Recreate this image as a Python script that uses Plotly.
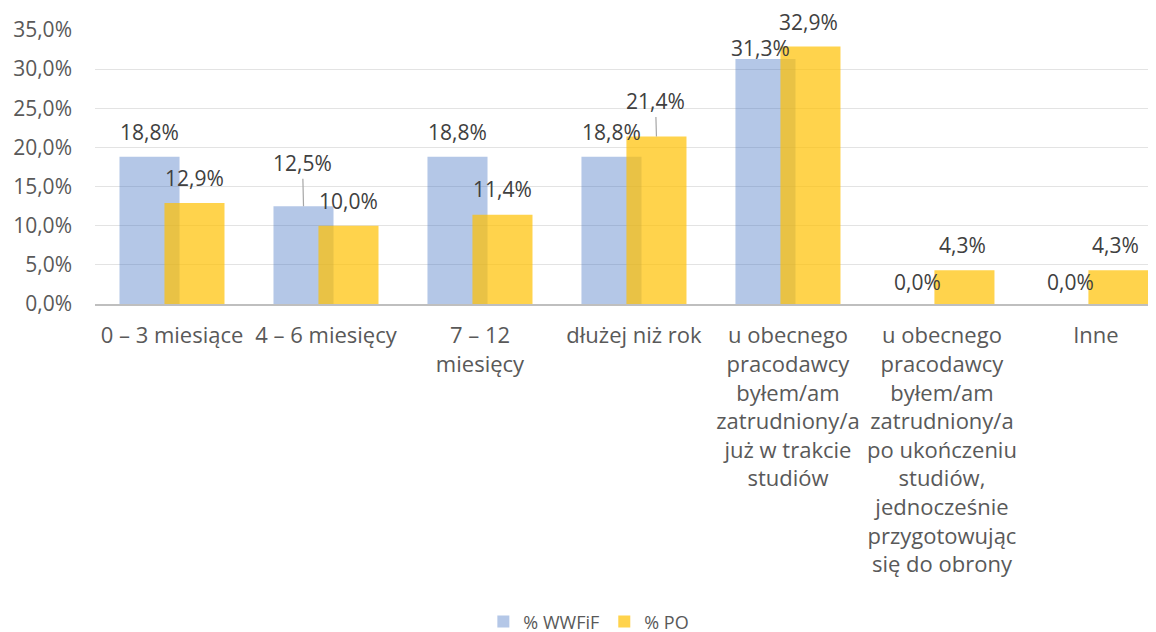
import plotly.graph_objects as go

# Data (values in percent)
categories = [
    "0 – 3 miesiące",
    "4 – 6 miesięcy",
    "7 – 12 miesięcy",
    "dłużej niż rok",
    "u obecnego pracodawcy byłem/am zatrudniony/a już w trakcie studiów",
    "u obecnego pracodawcy byłem/am zatrudniony/a po ukończeniu studiów, jednocześnie przygotowując się do obrony",
    "Inne",
]
tick_labels = [
    "0 – 3 miesiące",
    "4 – 6 miesięcy",
    "7 – 12<br>miesięcy",
    "dłużej niż rok",
    "u obecnego<br>pracodawcy<br>byłem/am<br>zatrudniony/a<br>już w trakcie<br>studiów",
    "u obecnego<br>pracodawcy<br>byłem/am<br>zatrudniony/a<br>po ukończeniu<br>studiów,<br>jednocześnie<br>przygotowując<br>się do obrony",
    "Inne",
]
series_names = ["% WWFiF", "% PO"]
wwfif = [18.8, 12.5, 18.8, 18.8, 31.3, 0.0, 0.0]
po = [12.9, 10.0, 11.4, 21.4, 32.9, 4.3, 4.3]

# Styling
FONT = "Open Sans"
TICK_COLOR = "#595959"
LABEL_COLOR = "#404040"
BAR_WIDTH = 0.39
series_style = [
    dict(values=wwfif, color="rgba(68,114,196,0.4)", offset=-0.341),
    dict(values=po, color="rgba(255,192,0,0.7)", offset=-0.049),
]
# Data-label placement (pixel lift above bar top, x nudge, leader line)
label_lift = [
    [25, 43, 25, 25, 11, 22, 22],
    [25, 25, 26, 35, 24, 25, 25],
]
label_nudge = [
    [0, -1, 0, 0, -5, -2, -3],
    [0, 0, 0, -1, -2, -2, -3],
]
label_leader = [
    [False, True, False, False, False, False, False],
    [False, False, False, True, False, False, False],
]

xs = list(range(len(categories)))

fig = go.Figure()
for name, st in zip(series_names, series_style):
    fig.add_trace(
        go.Bar(
            x=xs,
            y=st["values"],
            name=name,
            width=BAR_WIDTH,
            offset=st["offset"],
            marker=dict(color=st["color"], line=dict(width=0)),
            hovertext=categories,
        )
    )

annotations = []
for s, st in enumerate(series_style):
    center = st["offset"] + BAR_WIDTH / 2
    for i, v in enumerate(st["values"]):
        text = f"{v:.1f}%".replace(".", ",")
        if label_leader[s][i]:
            annotations.append(dict(
                x=i + center, y=v, xref="x", yref="y", text=text,
                showarrow=True, ax=label_nudge[s][i], ay=-label_lift[s][i],
                arrowhead=0, arrowwidth=1.2, arrowcolor="#A6A6A6", standoff=0,
                font=dict(family=FONT, size=21, color=LABEL_COLOR),
            ))
        else:
            annotations.append(dict(
                x=i + center, y=v, xref="x", yref="y", text=text,
                showarrow=False, yshift=label_lift[s][i], xshift=label_nudge[s][i],
                xanchor="center", yanchor="middle",
                font=dict(family=FONT, size=21, color=LABEL_COLOR),
            ))

# page body has an 8px margin, so the figure starts 8px in from the window corner
fig.update_layout(
    width=1140,
    height=630,
    margin=dict(l=87, r=0, t=22, b=334, pad=0, autoexpand=False),
    paper_bgcolor="white",
    plot_bgcolor="white",
    barmode="overlay",
    separators=", ",
    font=dict(family=FONT, size=21, color=TICK_COLOR),
    annotations=annotations,
    showlegend=True,
    legend=dict(
        orientation="h",
        x=0.469,
        xanchor="center",
        y=-1.16,
        yanchor="middle",
        font=dict(family=FONT, size=18, color=TICK_COLOR),
        itemwidth=30,
        traceorder="normal",
    ),
    xaxis=dict(
        range=[-0.5, 6.338],
        tickmode="array",
        tickvals=xs,
        ticktext=tick_labels,
        showgrid=False,
        zeroline=False,
        showline=True,
        linecolor="#BFBFBF",
        linewidth=2,
        ticks="",
        tickfont=dict(family=FONT, size=22, color=TICK_COLOR),
        ticklabelstandoff=11,
    ),
    yaxis=dict(
        range=[0, 35],
        dtick=5,
        tickformat=".1f",
        ticksuffix="%",
        showgrid=True,
        gridcolor="#E3E3E3",
        gridwidth=1,
        zeroline=False,
        showline=False,
        ticks="",
        tickfont=dict(family=FONT, size=21, color=TICK_COLOR),
        ticklabelstandoff=22,
    ),
)

fig.write_html("out.html")
